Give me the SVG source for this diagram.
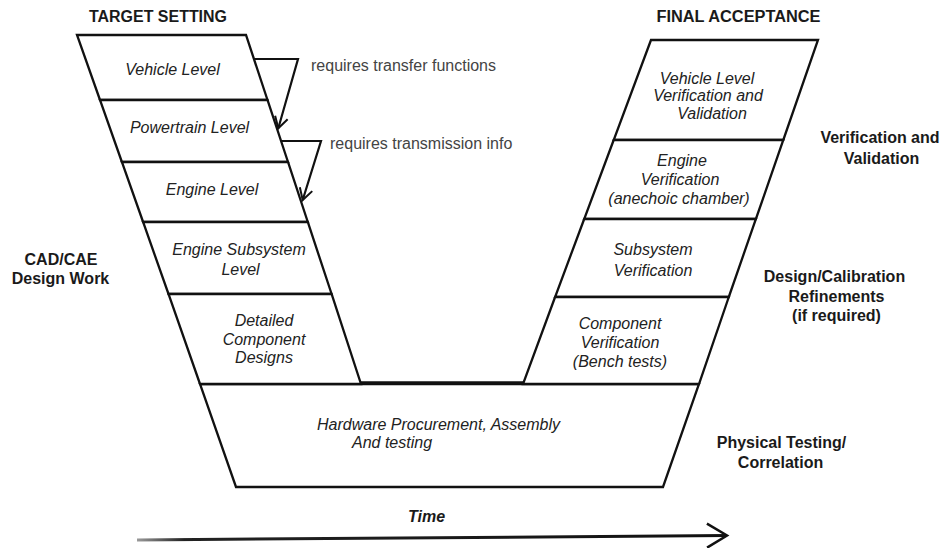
<svg xmlns="http://www.w3.org/2000/svg" width="941" height="548" viewBox="0 0 941 548">
<style>
.box{fill:#fff;stroke:#111;stroke-width:2.3;stroke-linejoin:miter}
.lbl{font-family:"Liberation Sans",Arial,sans-serif;font-size:16px;font-style:italic;fill:#222;text-anchor:middle}
.bold{font-family:"Liberation Sans",Arial,sans-serif;font-size:16px;font-weight:bold;fill:#1a1a1a;text-anchor:middle}
.note{font-family:"Liberation Sans",Arial,sans-serif;font-size:16px;fill:#444}
.fb{fill:none;stroke:#111;stroke-width:2.2;stroke-linejoin:miter}
</style>
<defs>
<marker id="openV" markerUnits="userSpaceOnUse" markerWidth="30" markerHeight="30" viewBox="-15 -15 30 30" refX="0" refY="0" orient="auto" overflow="visible">
<path d="M-11.3,-6.5 L0,0 L-11.3,6.5" fill="none" stroke="#111" stroke-width="2"/>
</marker>
<marker id="timeHead" markerUnits="userSpaceOnUse" markerWidth="50" markerHeight="50" viewBox="-25 -25 50 50" refX="0" refY="0" orient="auto" overflow="visible">
<path d="M-20,-12 L0,0 L-20,12" fill="none" stroke="#111" stroke-width="2.5"/>
</marker>
<linearGradient id="timeGrad" gradientUnits="userSpaceOnUse" x1="137" y1="0" x2="727" y2="0">
<stop offset="0" stop-color="#9a9a9a"/>
<stop offset="0.08" stop-color="#222"/>
<stop offset="1" stop-color="#111"/>
</linearGradient>
</defs>

<rect width="941" height="548" fill="#fff"/>

<text class="bold" x="158" y="22" font-size="15" textLength="138" lengthAdjust="spacingAndGlyphs">TARGET SETTING</text>
<text class="bold" x="738.5" y="22" font-size="15" textLength="164" lengthAdjust="spacingAndGlyphs">FINAL ACCEPTANCE</text>

<g id="hardware">
<polygon class="box" points="200,384 699,384 663,487 236,487"/>
<text class="lbl" x="317" y="430" style="text-anchor:start">Hardware Procurement, Assembly</text>
<text class="lbl" x="352" y="448" style="text-anchor:start">And testing</text>
</g>

<g id="vehicle-level">
<polygon class="box" points="77,35 246,35 267.5,100 100,100"/>
<text class="lbl" x="172.5" y="75">Vehicle Level</text>
</g>
<g id="powertrain-level">
<polygon class="box" points="100,100 267.5,100 288,162 121.9,162"/>
<text class="lbl" x="189.5" y="133">Powertrain Level</text>
</g>
<g id="engine-level">
<polygon class="box" points="121.9,162 288,162 307.8,222 143.1,222"/>
<text class="lbl" x="212" y="195">Engine Level</text>
</g>
<g id="engine-subsystem-level">
<polygon class="box" points="143.1,222 307.8,222 331.6,294 168.5,294"/>
<text class="lbl" x="239" y="255">Engine Subsystem</text>
<text class="lbl" x="240.5" y="275">Level</text>
</g>
<g id="detailed-component-designs">
<polygon class="box" points="168.5,294 331.6,294 361,384 200,384"/>
<text class="lbl" x="264" y="326">Detailed</text>
<text class="lbl" x="264" y="345">Component</text>
<text class="lbl" x="264" y="363">Designs</text>
</g>

<g id="vehicle-verification">
<polygon class="box" points="651,40 818,40 783.3,140 613.7,140"/>
<text class="lbl" x="707" y="84">Vehicle Level</text>
<text class="lbl" x="708" y="101">Verification and</text>
<text class="lbl" x="712" y="119">Validation</text>
</g>
<g id="engine-verification">
<polygon class="box" points="613.7,140 783.3,140 755.9,219 584.2,219"/>
<text class="lbl" x="682" y="166">Engine</text>
<text class="lbl" x="680" y="185">Verification</text>
<text class="lbl" x="679" y="204">(anechoic chamber)</text>
</g>
<g id="subsystem-verification">
<polygon class="box" points="584.2,219 755.9,219 728.8,297 555.1,297"/>
<text class="lbl" x="653" y="255">Subsystem</text>
<text class="lbl" x="653" y="276">Verification</text>
</g>
<g id="component-verification">
<polygon class="box" points="555.1,297 728.8,297 699,384 523,384"/>
<text class="lbl" x="620" y="329">Component</text>
<text class="lbl" x="620" y="348">Verification</text>
<text class="lbl" x="620" y="367">(Bench tests)</text>
</g>

<g id="bottom-bar">
<line x1="361" y1="383" x2="523" y2="383" stroke="#111" stroke-width="3.5"/>
</g>

<g id="side-labels">
<text class="bold" x="61" y="265">CAD/CAE</text>
<text class="bold" x="60.5" y="284">Design Work</text>
<text class="bold" x="880" y="143">Verification and</text>
<text class="bold" x="881.5" y="164">Validation</text>
<text class="bold" x="834.5" y="282">Design/Calibration</text>
<text class="bold" x="836.5" y="302">Refinements</text>
<text class="bold" x="836.5" y="321">(if required)</text>
<text class="bold" x="781.5" y="448">Physical Testing/</text>
<text class="bold" x="780.5" y="468">Correlation</text>
</g>

<g id="connectors">
<path class="fb" d="M254,59 L298,59 L278.3,128.3" marker-end="url(#openV)"/>
<text class="note" x="311" y="71">requires transfer functions</text>
<path class="fb" d="M281,141 L321,141 L302.7,200" marker-end="url(#openV)"/>
<text class="note" x="330" y="149">requires transmission info</text>
<line x1="137" y1="540" x2="727" y2="535.5" stroke="url(#timeGrad)" stroke-width="3" marker-end="url(#timeHead)"/>
<text class="bold" x="426.5" y="522" font-size="15" font-style="italic">Time</text>
</g>
</svg>
